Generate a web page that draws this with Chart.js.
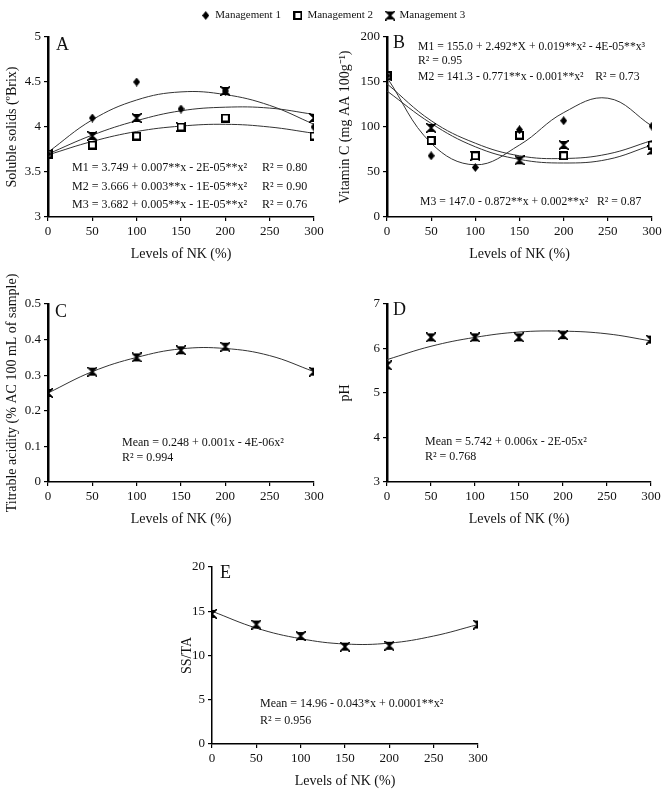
<!DOCTYPE html>
<html><head><meta charset="utf-8">
<script src="https://cdn.jsdelivr.net/npm/chart.js@4/dist/chart.umd.min.js"></script>
<style>body{margin:0;background:#fff;width:667px;height:793px;position:relative;overflow:hidden}.w{position:absolute}</style>
</head><body>
<script>
// ---- data ----
const levels=[0,50,100,150,200,300];
const fitX=[0,50,100,150,200,250,300];
// A: soluble solids
const ssM1=[3.7,4.1,4.5,4.2,4.4,4.0];
const ssM2=[3.7,3.8,3.9,4.0,4.1,3.9];
const ssM3=[3.7,3.9,4.1,4.0,4.4,4.1];
const ssFitM1=[3.72,4.08,4.30,4.39,4.36,4.24,4.03];
const ssFitM2=[3.69,3.84,3.95,4.01,4.03,4.00,3.93];
const ssFitM3=[3.70,3.91,4.07,4.18,4.22,4.21,4.14];
// B: vitamin C
const vcM1=[157,68,55,97,107,101];
const vcM2=[157,85,68,91,68,80];
const vcM3=[157,99,68,63,80,74];
const vcFitM1=[155,82,58,80,116,132,101];
const vcFitM2=[148,107,82,68,65,70,85];
const vcFitM3=[140,104,78,64,60,64,80];
// C: titrable acidity
const taMean=[0.25,0.31,0.35,0.37,0.38,0.31];
const taFit=[0.25,0.31,0.35,0.374,0.375,0.355,0.31];
// D: pH
const phMean=[5.62,6.25,6.25,6.25,6.3,6.2];
const phFit=[5.75,6.05,6.25,6.37,6.39,6.33,6.17];
// E: SS/TA
const stMean=[14.7,13.5,12.2,11.0,11.1,13.5];
const stFit=[15.0,13.1,11.9,11.3,11.4,12.2,13.5];
const seriesNames=['Management 1','Management 2','Management 3'];

const FAM="'Liberation Serif','Times New Roman',serif";
function mk(w,h,fn){const c=document.createElement('canvas');c.width=w;c.height=h;fn(c.getContext('2d'),w,h);return c;}
const BT=mk(10,10,(g,s)=>{g.fillStyle='#000';
  g.beginPath();g.moveTo(1,1);g.lineTo(s-1,1);g.lineTo(s/2,s/2);g.closePath();g.fill();
  g.beginPath();g.moveTo(1,s-1);g.lineTo(s-1,s-1);g.lineTo(s/2,s/2);g.closePath();g.fill();
  g.strokeStyle='#000';g.lineWidth=1.6;g.beginPath();g.moveTo(0,0);g.lineTo(s,s);g.moveTo(s,0);g.lineTo(0,s);g.stroke();});
const DM=mk(7,9,(g,w,h)=>{g.fillStyle='#000';g.beginPath();g.moveTo(w/2,0);g.lineTo(w,h/2);g.lineTo(w/2,h);g.lineTo(0,h/2);g.closePath();g.fill();});
const SQ=mk(9,9,(g,w,h)=>{g.fillStyle='#fff';g.fillRect(0,0,w,h);g.strokeStyle='#000';g.lineWidth=2;g.strokeRect(1,1,w-2,h-2);});
const pts=(xs,ys)=>xs.map((x,i)=>({x,y:ys[i]}));
const fitDs=ys=>({data:pts(fitX,ys),showLine:true,tension:0.4,borderColor:'#333',borderWidth:1,pointRadius:0,fill:false});
const m1Ds=ys=>({label:seriesNames[0],data:pts(levels,ys),showLine:false,pointStyle:DM,pointRadius:4,backgroundColor:'#000',borderColor:'#000'});
const m2Ds=ys=>({label:seriesNames[1],data:pts(levels,ys),showLine:false,pointStyle:SQ,pointRadius:4.5,backgroundColor:'#fff',borderColor:'#000'});
const m3Ds=ys=>({label:seriesNames[2],data:pts(levels,ys),showLine:false,pointStyle:BT,pointRadius:5,backgroundColor:'#000',borderColor:'#000'});
const fmt=v=>String(Number(v.toFixed(2)));

function panel(o){
  const cw=o.yW+(o.R-o.L)+o.pr, ch=o.pt+(o.B-o.T)+o.xH;
  const left=o.L-o.yW, top=o.T-o.pt;
  const div=document.createElement('div');div.className='w';div.style.left=left+'px';div.style.top=top+'px';
  const cv=document.createElement('canvas');cv.width=cw;cv.height=ch;cv.style.width=cw+'px';cv.style.height=ch+'px';
  div.appendChild(cv);document.body.appendChild(div);
  const textPlugin={id:'txt',afterDraw(chart){
    const ctx=chart.ctx;ctx.save();ctx.fillStyle='#111';ctx.textBaseline='middle';ctx.textAlign='left';
    o.texts.forEach(t=>{ctx.font=(t.s||o.fs||12)+'px '+FAM;ctx.fillText(t.t,t.x-left,t.y-top);});
    ctx.restore();}};
  new Chart(cv,{type:'scatter',data:{datasets:o.datasets},options:{responsive:false,animation:false,devicePixelRatio:1,
    layout:{padding:{left:0,right:o.pr,top:o.pt,bottom:0}},
    plugins:{legend:{display:false},tooltip:{enabled:false}},
    scales:{
      x:{type:'linear',min:0,max:300,afterFit:s=>{s.height=o.xH;},
        ticks:{stepSize:50,font:{family:FAM,size:13},color:'#111',padding:3,maxRotation:0},
        grid:{drawOnChartArea:false,drawTicks:true,tickLength:4,color:'#000',lineWidth:1.2},
        border:{color:'#000',width:1.5},
        title:{display:true,text:'Levels of NK (%)',font:{family:FAM,size:14},color:'#111',padding:{top:4,bottom:4}}},
      y:{type:'linear',min:o.ymin,max:o.ymax,afterFit:s=>{s.width=o.yW;},
        ticks:{stepSize:o.step,font:{family:FAM,size:13},color:'#111',padding:3,callback:fmt},
        grid:{drawOnChartArea:false,drawTicks:true,tickLength:4,color:'#000',lineWidth:1.2},
        border:{color:'#000',width:o.bw||2.5},
        title:{display:true,text:o.ytitle,font:{family:FAM,size:14},color:'#111',padding:{top:4,bottom:4}}}
    }},plugins:[textPlugin]});
}

// legend
(function(){
  const div=document.createElement('div');div.className='w';div.style.left='0px';div.style.top='-3px';
  const cv=document.createElement('canvas');cv.width=667;cv.height=90;cv.style.width='667px';cv.style.height='90px';
  div.appendChild(cv);document.body.appendChild(div);
  new Chart(cv,{type:'scatter',data:{datasets:[m1Ds([]),m2Ds([]),m3Ds([])]},options:{responsive:false,animation:false,devicePixelRatio:1,
    layout:{padding:0},
    scales:{x:{display:false},y:{display:false}},
    plugins:{tooltip:{enabled:false},legend:{display:true,position:'top',align:'center',
      labels:{usePointStyle:true,font:{family:FAM,size:11},color:'#111',padding:13,boxWidth:8,boxHeight:8}}}}});
})();

panel({L:48,R:314,T:37,B:217,yW:48,pr:16,pt:12,xH:50,ymin:3,ymax:5,step:0.5,fs:12,ytitle:'Soluble solids (ºBrix)',
  datasets:[m1Ds(ssM1),m2Ds(ssM2),m3Ds(ssM3),fitDs(ssFitM1),fitDs(ssFitM2),fitDs(ssFitM3)],
  texts:[{t:'A',x:56,y:45,s:18},
    {t:'M1 = 3.749 + 0.007**x - 2E-05**x²',x:72,y:168},{t:'R² = 0.80',x:262,y:168},
    {t:'M2 = 3.666 + 0.003**x - 1E-05**x²',x:72,y:187},{t:'R² = 0.90',x:262,y:187},
    {t:'M3 = 3.682 + 0.005**x - 1E-05**x²',x:72,y:205},{t:'R² = 0.76',x:262,y:205}]});

panel({L:387,R:652,T:37,B:217,yW:54,pr:14,pt:12,xH:50,ymin:0,ymax:200,step:50,fs:11.7,ytitle:'Vitamin C (mg AA 100g⁻¹)',
  datasets:[m1Ds(vcM1),m2Ds(vcM2),m3Ds(vcM3),fitDs(vcFitM1),fitDs(vcFitM2),fitDs(vcFitM3)],
  texts:[{t:'B',x:393,y:43,s:18},
    {t:'M1 = 155.0 + 2.492*X + 0.019**x² - 4E-05**x³',x:418,y:47},
    {t:'R² = 0.95',x:418,y:61},
    {t:'M2 = 141.3 - 0.771**x - 0.001**x²    R² = 0.73',x:418,y:77},
    {t:'M3 = 147.0 - 0.872**x + 0.002**x²   R² = 0.87',x:420,y:202}]});

panel({L:48,R:314,T:304,B:482,yW:48,pr:16,pt:30,xH:50,ymin:0,ymax:0.5,step:0.1,fs:12,ytitle:'Titrable acidity (% AC 100 mL of sample)',
  datasets:[{data:pts(levels,taMean),showLine:false,pointStyle:BT,pointRadius:5},fitDs(taFit)],
  texts:[{t:'C',x:55,y:312,s:18},{t:'Mean = 0.248 + 0.001x - 4E-06x²',x:122,y:443},{t:'R² = 0.994',x:122,y:458}]});

panel({L:387,R:651,T:304,B:482,yW:54,pr:15,pt:12,xH:50,ymin:3,ymax:7,step:1,fs:12,ytitle:'pH',
  datasets:[{data:pts(levels,phMean),showLine:false,pointStyle:BT,pointRadius:5},fitDs(phFit)],
  texts:[{t:'D',x:393,y:310,s:18},{t:'Mean = 5.742 + 0.006x - 2E-05x²',x:425,y:442},{t:'R² = 0.768',x:425,y:457}]});

panel({L:212,R:478,T:567,B:744,yW:37,pr:16,pt:12,xH:50,ymin:0,ymax:20,step:5,bw:1.5,fs:12,ytitle:'SS/TA',
  datasets:[{data:pts(levels,stMean),showLine:false,pointStyle:BT,pointRadius:5},fitDs(stFit)],
  texts:[{t:'E',x:220,y:573,s:18},{t:'Mean = 14.96 - 0.043*x + 0.0001**x²',x:260,y:704},{t:'R² = 0.956',x:260,y:721}]});
</script>
</body></html>
